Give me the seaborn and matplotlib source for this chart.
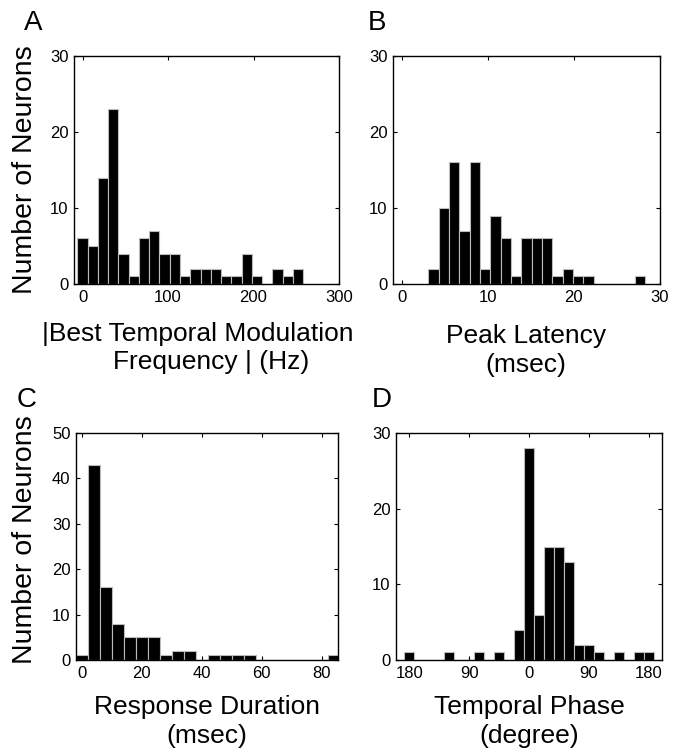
import numpy as np
import pandas as pd
import matplotlib
matplotlib.use("Agg")
import matplotlib.pyplot as plt
import seaborn as sns

sns.set_style("white")
plt.rcParams['font.family'] = ['Liberation Sans', 'DejaVu Sans']
plt.rcParams['text.color'] = 'black'
plt.rcParams['xtick.color'] = 'black'
plt.rcParams['ytick.color'] = 'black'
plt.rcParams['axes.labelcolor'] = 'black'

# ---- data ----
# Panel A: |Best temporal modulation frequency| (Hz), bin centers step 12
bmf_centers = [0, 12, 24, 36, 48, 60, 72, 84, 96, 108, 120, 132, 144, 156, 168, 180, 192, 204, 216, 228, 240, 252]
bmf_counts = [6, 5, 14, 23, 4, 1, 6, 7, 4, 4, 1, 2, 2, 2, 1, 1, 4, 1, 0, 2, 1, 2]

# Panel B: Peak latency (msec), bin centers step 1.2
lat_centers = [3.7, 4.9, 6.1, 7.3, 8.5, 9.7, 10.9, 12.1, 13.3, 14.5, 15.7, 16.9, 18.1, 19.3, 20.5, 21.7, 22.9, 24.1, 25.3, 26.5, 27.7]
lat_counts = [2, 10, 16, 7, 16, 2, 9, 6, 1, 6, 6, 6, 1, 2, 1, 1, 0, 0, 0, 0, 1]

# Panel C: Response duration (msec), bin centers step 4
dur_centers = [0, 4, 8, 12, 16, 20, 24, 28, 32, 36, 40, 44, 48, 52, 56, 60, 64, 68, 72, 76, 80, 84]
dur_counts = [1, 43, 16, 8, 5, 5, 5, 1, 2, 2, 0, 1, 1, 1, 1, 0, 0, 0, 0, 0, 0, 1]

# Panel D: Temporal phase (degree), bin centers step 15
ph_centers = [-180, -165, -150, -135, -120, -105, -90, -75, -60, -45, -30, -15, 0, 15, 30, 45, 60, 75, 90, 105, 120, 135, 150, 165, 180]
ph_counts = [1, 0, 0, 0, 1, 0, 0, 1, 0, 1, 0, 4, 28, 6, 15, 15, 13, 2, 2, 1, 0, 1, 0, 1, 1]

W, H = 683, 756
fig = plt.figure(figsize=(W / 100, H / 100), dpi=100)


def add_ax(left, top, right, bottom):
    return fig.add_axes([left / W, 1 - bottom / H, (right - left) / W, (bottom - top) / H])


def hist(ax, centers, counts, width):
    centers = np.asarray(centers, float)
    lo = float(centers[0] - width / 2)
    hi = float(centers[-1] + width / 2)
    df = pd.DataFrame({"x": centers, "n": counts})
    sns.histplot(data=df, x="x", weights="n", binwidth=width, binrange=(lo, hi), ax=ax,
                 color="black", edgecolor="#bbbbbb", linewidth=0.8, alpha=1)


def style(ax, xlim, ylim, xticks, yticks, xticklabels=None):
    ax.set_xlim(*xlim)
    ax.set_ylim(*ylim)
    ax.set_xticks(xticks)
    ax.set_yticks(yticks)
    if xticklabels is not None:
        ax.set_xticklabels(xticklabels)
    ax.tick_params(direction="in", length=3, width=0.8, labelsize=12,
                   colors="black",
                   top=True, right=True, bottom=True, left=True, pad=4)
    for s in ax.spines.values():
        s.set_visible(True)
        s.set_color("black")
        s.set_linewidth(1.0)
    ax.set_xlabel("")
    ax.set_ylabel("")


axA = add_ax(74, 56, 339, 284)
hist(axA, bmf_centers, bmf_counts, 12)
style(axA, (-10, 300), (0, 30), [0, 100, 200, 300], [0, 10, 20, 30])

axB = add_ax(393, 56, 660, 284)
hist(axB, lat_centers, lat_counts, 1.2)
style(axB, (-1, 30), (0, 30), [0, 10, 20, 30], [0, 10, 20, 30])

axC = add_ax(76, 433, 338, 660)
hist(axC, dur_centers, dur_counts, 4)
style(axC, (-2, 85.5), (0, 50), [0, 20, 40, 60, 80], [0, 10, 20, 30, 40, 50])

axD = add_ax(396, 433, 662, 660)
hist(axD, ph_centers, ph_counts, 15)
style(axD, (-200, 200), (0, 30), [-180, -90, 0, 90, 180], [0, 10, 20, 30],
      ["180", "90", "0", "90", "180"])

fs = 19


def ftext(x, y, s, size=fs, **kw):
    fig.text(x / W, 1 - y / H, s, fontsize=size, ha="center", va="center",
             color="black", **kw)


# panel letters
ftext(33, 23, "A", size=20)
ftext(377, 23, "B", size=20)
ftext(27, 400, "C", size=20)
ftext(382, 400, "D", size=20)

# y labels
ftext(25, 170, "Number of Neurons", size=20.5, rotation=90)
ftext(25, 540, "Number of Neurons", size=20.5, rotation=90)

# x labels
ftext(198, 334, "|Best Temporal Modulation")
ftext(211, 362, "Frequency | (Hz)")
ftext(526, 336, "Peak Latency")
ftext(526, 365, "(msec)")
ftext(207, 707, "Response Duration")
ftext(207, 736, "(msec)")
ftext(529, 707, "Temporal Phase")
ftext(529, 736, "(degree)")

fig.savefig("out.png", dpi=100)
